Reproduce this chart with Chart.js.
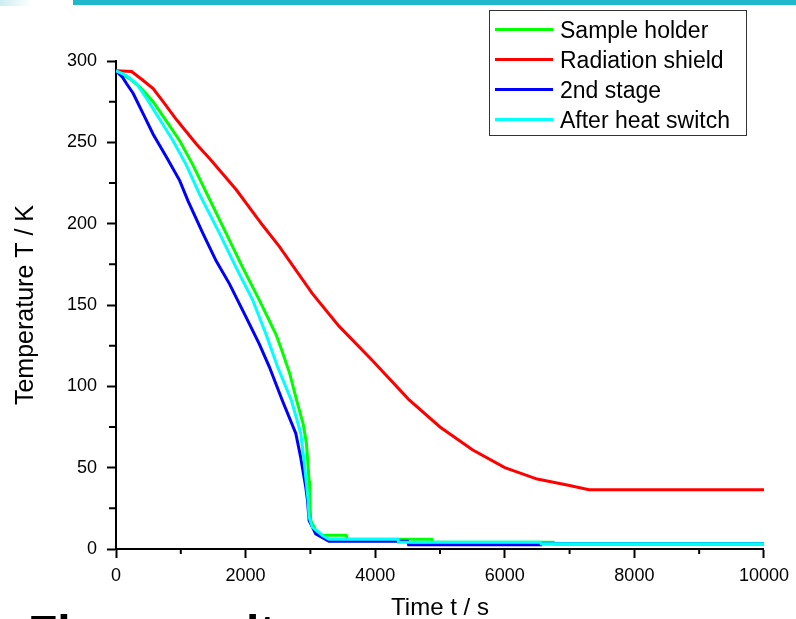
<!DOCTYPE html>
<html>
<head>
<meta charset="utf-8">
<script src="https://cdn.jsdelivr.net/npm/chart.js@4/dist/chart.umd.min.js"></script>
<style>
  body { margin: 0; background: #fff; overflow: hidden; font-family: "Liberation Sans", Arial, sans-serif; }
  #wrap { position: relative; width: 796px; height: 619px; }
  #topbar { position: absolute; left: 73px; top: 0; width: 723px; height: 5px; background: #22b8cc; }
  #topfade { position: absolute; left: 0; top: 0; width: 32px; height: 6px;
    background: linear-gradient(to right, rgba(170,225,235,0.6), rgba(255,255,255,0)); }
  #legend { position: absolute; left: 489px; top: 10px; width: 256px; height: 124px;
    border: 1px solid #333; box-sizing: content-box; }
  .row { position: absolute; left: 0; height: 30px; display: flex; align-items: center; }
  .sw { width: 58px; height: 3px; margin-left: 5px; margin-right: 7px; }
  .lbl { font-size: 23px; line-height: 30px; color: #000; white-space: nowrap; }
  .big { position: absolute; top: 609px; font-size: 48px; line-height: 1; font-weight: bold; color: #000; }
</style>
</head>
<body>
<div id="wrap">
  <canvas id="c" width="796" height="619"></canvas>
  <div id="topfade"></div>
  <div id="topbar"></div>
  <div id="legend"></div>
  <span class="big" style="left:28px">Figure</span>
  <span class="big" style="left:246px">lt</span>
</div>
<script>
// Sample holder
const holderT = [0, 215, 369, 573, 778, 983, 1188, 1444, 1700, 1956, 2212, 2468, 2560, 2680, 2790, 2888, 2939, 2955, 2980, 2990, 3006, 3083, 3185, 3550, 3560, 4870, 4880, 6750, 6760, 10000];
const holderK = [294, 289, 284, 275, 263, 251, 236, 215, 194, 173, 153, 132, 122, 108, 91, 77, 65, 56, 42, 30, 17.5, 11.4, 8.5, 8.5, 6, 6, 4.2, 4.2, 3.2, 3.2];

// Radiation shield
const shieldT = [0, 240, 420, 573, 727, 932, 1239, 1444, 1853, 2263, 2519, 3031, 3441, 3953, 4516, 5000, 5500, 6000, 6500, 7000, 7300, 10000];
const shieldK = [294, 293.5, 288, 283, 275, 264, 249, 240, 221, 199, 186, 157, 137, 116, 92, 75, 61, 50, 43, 39, 36.5, 36.5];

// 2nd stage
const stageT = [0, 100, 164, 266, 420, 573, 778, 983, 1111, 1341, 1547, 1751, 2007, 2212, 2366, 2570, 2775, 2852, 2903, 2929, 2955, 2980, 3083, 3287, 4500, 4516, 6544, 6550, 10000];
const stageK = [294, 290, 286, 280, 267.5, 255, 241, 226.5, 214, 194, 177, 163, 142.5, 126, 112, 91, 71, 56, 44, 38, 30, 17.5, 9.3, 4.8, 4.8, 2.6, 2.6, 3.2, 3.2];

// After heat switch
const switchT = [0, 164, 318, 472, 676, 880, 1086, 1290, 1341, 1598, 1854, 2110, 2315, 2493, 2710, 2852, 2903, 2939, 2965, 2980, 3031, 3185, 3287, 4350, 4360, 6550, 6560, 10000];
const switchK = [294, 291, 286, 277, 264, 251, 236, 218, 214, 194, 173, 153, 132, 112, 91, 71, 54, 40, 30, 19.5, 13.4, 8.3, 6, 6, 4.2, 4.2, 3.2, 3.2];

const seriesNames = ['Sample holder', 'Radiation shield', '2nd stage', 'After heat switch'];
const seriesColors = ['#00ff00', '#ff0000', '#0000ff', '#00ffff'];

const xMinor = [1000, 3000, 5000, 7000, 9000];
const yMinor = [25, 75, 125, 175, 225, 275];

function pts(ts, ks) {
    return ts.map((t, i) => ({ x: t, y: ks[i] }));
}

const allData = [
    pts(holderT, holderK),
    pts(shieldT, shieldK),
    pts(stageT, stageK),
    pts(switchT, switchK)
];

// legend in html
const legend = document.getElementById('legend');
seriesNames.forEach((name, i) => {
    const row = document.createElement('div');
    row.className = 'row';
    row.style.top = (3.5 + i * 30) + 'px';
    row.innerHTML = '<div class="sw" style="background:' + seriesColors[i] + '"></div><span class="lbl">' + name + '</span>';
    legend.appendChild(row);
});

// kleine Striche zwischen den Hauptticks
const minorTicks = {
    id: 'minorTicks',
    afterDraw(chart) {
        const { ctx, chartArea } = chart;
        const xs = chart.scales.x, ys = chart.scales.y;
        ctx.save();
        ctx.strokeStyle = '#000';
        ctx.lineWidth = 2;
        ctx.beginPath();
        yMinor.forEach(v => {
            const py = ys.getPixelForValue(v);
            ctx.moveTo(chartArea.left - 7, py);
            ctx.lineTo(chartArea.left, py);
        });
        xMinor.forEach(v => {
            const px = xs.getPixelForValue(v);
            ctx.moveTo(px, chartArea.bottom);
            ctx.lineTo(px, chartArea.bottom + 5);
        });
        ctx.stroke();
        ctx.restore();
    }
};

const font = 'Liberation Sans, Arial, sans-serif';

new Chart(document.getElementById('c').getContext('2d'), {
    type: 'line',
    data: {
        datasets: allData.map((d, i) => ({
            label: seriesNames[i],
            data: d,
            borderColor: seriesColors[i],
            backgroundColor: seriesColors[i],
            borderWidth: 3,
            pointRadius: 0,
            tension: 0,
            fill: false,
            order: 4 - i
        }))
    },
    options: {
        responsive: false,
        animation: false,
        layout: { padding: { top: 61, right: 30, left: 0, bottom: 0 } },
        plugins: { legend: { display: false }, tooltip: { enabled: false } },
        scales: {
            x: {
                type: 'linear',
                min: 0,
                max: 10000,
                afterFit: s => { s.height = 70; },
                border: { display: true, color: '#000', width: 2 },
                grid: { drawOnChartArea: false, drawTicks: true, tickLength: 9, tickWidth: 2, tickColor: '#000' },
                ticks: { stepSize: 2000, color: '#000', padding: 7, maxRotation: 0,
                    font: { family: font, size: 18 }, callback: v => String(v) },
                title: { display: true, text: 'Time t / s', color: '#000',
                    font: { family: font, size: 24, lineHeight: 0.8 }, padding: { top: 0, bottom: 1 } }
            },
            y: {
                min: 0,
                max: 300,
                afterFit: s => { s.width = 116; },
                border: { display: true, color: '#000', width: 2 },
                grid: { drawOnChartArea: false, drawTicks: true, tickLength: 9, tickWidth: 2, tickColor: '#000' },
                ticks: { stepSize: 50, color: '#000', padding: 10,
                    font: { family: font, size: 18 } },
                title: { display: true, text: 'Temperature T / K', color: '#000',
                    font: { family: font, size: 25, lineHeight: 0.8 }, padding: { top: 16, bottom: 0 } }
            }
        }
    },
    plugins: [minorTicks]
});
</script>
</body>
</html>
